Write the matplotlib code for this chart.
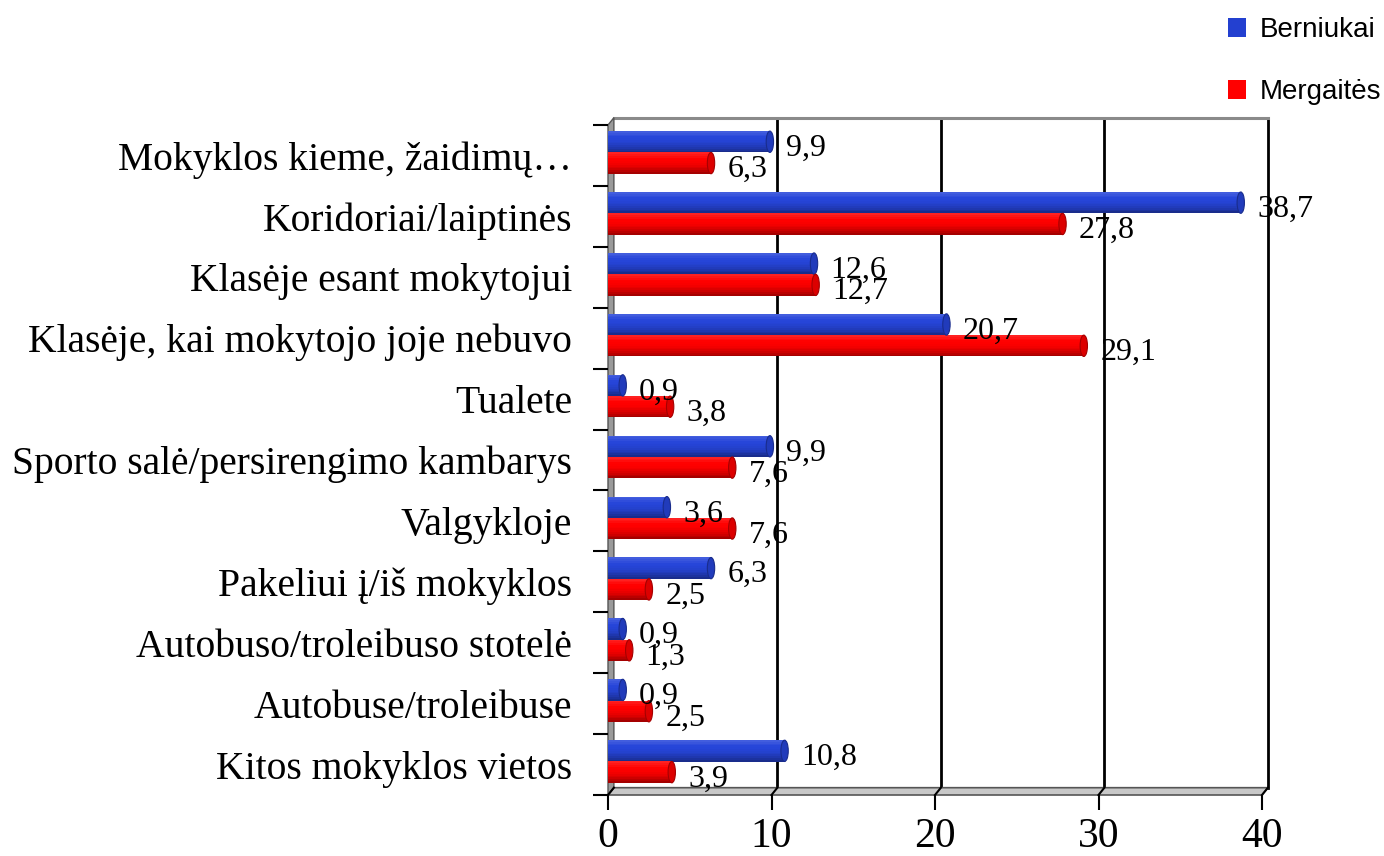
import numpy as np
import matplotlib
matplotlib.use("Agg")
import matplotlib.pyplot as plt
from matplotlib.patches import Ellipse, Polygon, Patch

categories = [
    "Mokyklos kieme, žaidimų…",
    "Koridoriai/laiptinės",
    "Klasėje esant mokytojui",
    "Klasėje, kai mokytojo joje nebuvo",
    "Tualete",
    "Sporto salė/persirengimo kambarys",
    "Valgykloje",
    "Pakeliui į/iš mokyklos",
    "Autobuso/troleibuso stotelė",
    "Autobuse/troleibuse",
    "Kitos mokyklos vietos",
]
berniukai = [9.9, 38.7, 12.6, 20.7, 0.9, 9.9, 3.6, 6.3, 0.9, 0.9, 10.8]
mergaites = [6.3, 27.8, 12.7, 29.1, 3.8, 7.6, 7.6, 2.5, 1.3, 2.5, 3.9]
xticks = [0, 10, 20, 30, 40]

SERIF = "Liberation Serif"
SANS = "Liberation Sans"

fig = plt.figure(figsize=(13.84, 8.56), dpi=100)
ax = fig.add_axes([608 / 1384, 1 - 795 / 856, 654 / 1384, 670 / 856])

n = len(categories)
ypos = np.arange(n)
ax.set_xlim(0, 40)
ax.set_ylim(n - 0.5, -0.5)

# depth of the back wall (3d look)
dx, dy = 0.36, -0.12

# back wall: gridlines, top and right border
for t in xticks[1:]:
    ax.plot([t + dx, t + dx], [-0.5 + dy, n - 0.5 + dy], color="black", lw=2,
            zorder=1, clip_on=False)
ax.plot([dx, 40 + dx], [-0.5 + dy, -0.5 + dy], color="#8a8a8a", lw=2.2,
        zorder=1, clip_on=False)

# left wall and floor
ax.add_patch(Polygon([[0, -0.5], [dx, -0.5 + dy], [dx, n - 0.5 + dy], [0, n - 0.5]],
                     closed=True, facecolor="#9a9a9a", edgecolor="#555555", lw=1,
                     zorder=1, clip_on=False))
ax.add_patch(Polygon([[0, n - 0.5], [dx, n - 0.5 + dy], [40 + dx, n - 0.5 + dy], [40, n - 0.5]],
                     closed=True, facecolor="#c8c8c8", edgecolor="#555555", lw=1.2,
                     zorder=1, clip_on=False))
for t in xticks:
    ax.plot([t, t + dx], [n - 0.5, n - 0.5 + dy], color="black", lw=1.5, zorder=2,
            clip_on=False)


def shade(base, k, nstripe):
    # cylinder shading: a bit lighter on top, dark at the bottom
    f = (k + 0.5) / nstripe
    base = np.array(base)
    if f < 0.3:
        c = base + (1 - base) * 0.15 * (1 - f / 0.3)
    else:
        c = base * (1 - 0.4 * ((f - 0.3) / 0.7) ** 2)
    return tuple(np.clip(c, 0, 1))


h = 0.35
off_b, off_r = -0.225, 0.125
nstripe = 12
blue = (0.15, 0.27, 0.85)
red = (1.0, 0.0, 0.0)

for vals, off, base in [(berniukai, off_b, blue), (mergaites, off_r, red)]:
    yc = ypos + off
    for k in range(nstripe):
        yy = yc - h / 2 + (k + 0.5) * h / nstripe
        ax.barh(yy, vals, height=h / nstripe * 1.05, color=shade(base, k, nstripe),
                lw=0, zorder=3)
    for v, y in zip(vals, yc):
        ax.add_patch(Ellipse((v, y), 0.45, h, facecolor=shade(base, nstripe - 4, nstripe),
                             edgecolor=shade(base, nstripe - 1, nstripe), lw=0.8, zorder=4))
        ax.text(v + 1.0, y + 0.11, f"{v:.1f}".replace(".", ","),
                fontsize=23, family=SERIF, va="center", ha="left", zorder=5)

for s in ax.spines.values():
    s.set_visible(False)
ax.set_xticks(xticks)
ax.set_xticklabels([str(t) for t in xticks], fontsize=30, family=SERIF)
ax.tick_params(axis="x", length=11, width=1.5, pad=5, direction="out")
ax.set_yticks(np.arange(-0.5, n, 1.0))
ax.set_yticklabels([])
ax.tick_params(axis="y", which="major", length=11, width=1.5)
ax.set_yticks(ypos, minor=True)
ax.set_yticklabels(categories, minor=True, fontsize=28.5, family=SERIF)
ax.tick_params(axis="y", which="minor", length=0, pad=26)

handles = [Patch(facecolor="#2340d0", label="Berniukai"),
           Patch(facecolor="#ff0000", label="Mergaitės")]
fig.legend(handles=handles, loc="upper right", bbox_to_anchor=(1.016, 1 + 8 / 856),
           frameon=False, prop={"family": SANS, "size": 20}, handlelength=0.65,
           handleheight=0.65, handletextpad=0.5, labelspacing=1.3)

fig.savefig("out.png", dpi=100)
